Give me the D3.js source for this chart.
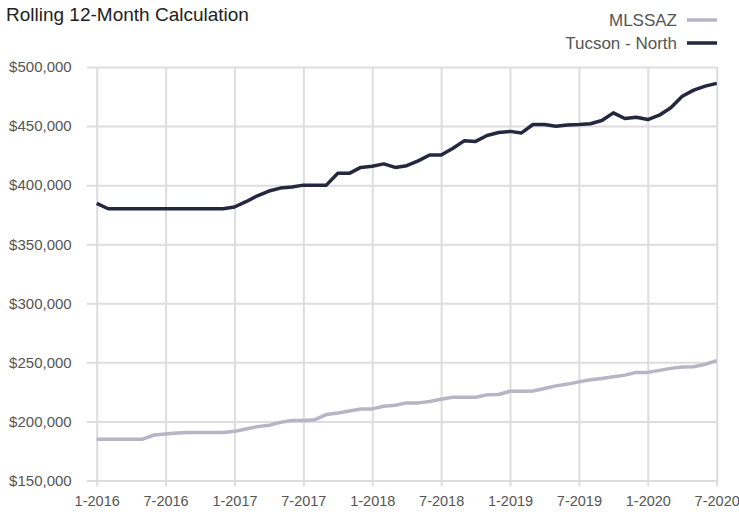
<!DOCTYPE html>
<meta charset="utf-8" />
<style>
  html,
  body {
    margin: 0;
    padding: 0;
    background: #fff;
  }
  #chart {
    width: 739px;
    height: 515px;
    font-family: 'Liberation Sans', Arial, sans-serif;
  }
</style>
<script src="https://d3js.org/d3.v7.min.js"></script>

<div id="chart"></div>

<script>
  // monthly values, 1-2016 .. 7-2020 (55 months)
  const tickLabels = [
    '1-2016', '7-2016', '1-2017', '7-2017', '1-2018',
    '7-2018', '1-2019', '7-2019', '1-2020', '7-2020',
  ];
  const yTicks = [150000, 200000, 250000, 300000, 350000, 400000, 450000, 500000];

  const mlssaz = [
    185000, 185000, 185000, 185000, 185000, 188500, 189400, 190200, 190700, 190700,
    190700, 190700, 191600, 193600, 195600, 196700, 199200, 200700, 200700, 201500,
    205800, 207200, 208900, 210600, 210600, 212800, 213700, 215700, 215700, 216800,
    218800, 220500, 220500, 220500, 222500, 222800, 225500, 225500, 225700, 227900,
    230100, 231600, 233500, 235200, 236400, 237800, 239200, 241500, 241500, 243200,
    244900, 246000, 246300, 248300, 251400,
  ];
  const tucsonNorth = [
    384500, 380000, 380000, 380000, 380000, 380000, 380000, 380000, 380000, 380000,
    380000, 380000, 381500, 386000, 391000, 395000, 397500, 398500, 400000, 400000,
    400000, 410000, 410000, 415000, 416000, 418000, 415000, 416500, 420500, 425500,
    425500, 431000, 437500, 437000, 442000, 444500, 445500, 444200, 451300, 451300,
    449800, 451000, 451300, 452000, 454700, 461200, 456400, 457500, 455500, 459200,
    465500, 475300, 480400, 483800, 486100,
  ];

  const seriesNames = ['MLSSAZ', 'Tucson - North'];
  const seriesColors = ['#b6b4c5', '#25273f'];

  const width = 739;
  const height = 515;
  const margin = { top: 67, right: 22.3, bottom: 34.5, left: 96.7 };
  const innerW = width - margin.left - margin.right;
  const innerH = height - margin.top - margin.bottom;

  const svg = d3
    .select('#chart')
    .append('svg')
    .attr('width', width)
    .attr('height', height);

  const g = svg
    .append('g')
    .attr('transform', 'translate(' + margin.left + ',' + margin.top + ')');

  const x = d3.scaleLinear().domain([0, mlssaz.length - 1]).range([0, innerW]);
  const y = d3.scaleLinear().domain([150000, 500000]).range([innerH, 0]);

  const gridColor = '#dddddd';

  // horizontal grid + y labels
  const yAxis = g
    .append('g')
    .call(
      d3
        .axisLeft(y)
        .tickValues(yTicks)
        .tickSize(0)
        .tickFormat((d) => '$' + d3.format(',')(d)),
    )
    .call((a) => a.select('.domain').remove());
  yAxis.selectAll('.tick line')
    .attr('x1', -10)
    .attr('x2', innerW)
    .attr('stroke', gridColor)
    .attr('stroke-width', 2);
  yAxis.selectAll('.tick text')
    .attr('x', -25)
    .attr('fill', '#555')
    .style('font-size', '15px')
    .style('font-family', "'Liberation Sans', Arial, sans-serif");

  // vertical grid + x labels
  const xAxis = g
    .append('g')
    .attr('transform', 'translate(0,' + innerH + ')')
    .call(
      d3
        .axisBottom(x)
        .tickValues(d3.range(0, mlssaz.length, 6))
        .tickSize(6)
        .tickPadding(9)
        .tickFormat((d, i) => tickLabels[i]),
    )
    .call((a) => a.select('.domain').remove());
  xAxis.selectAll('.tick line')
    .attr('y1', -innerH)
    .attr('y2', 6)
    .attr('stroke', gridColor)
    .attr('stroke-width', 2);
  xAxis.selectAll('.tick text')
    .attr('fill', '#555')
    .style('font-size', '14.5px')
    .style('font-family', "'Liberation Sans', Arial, sans-serif");

  // lines
  const line = d3
    .line()
    .x((d, i) => x(i))
    .y((d) => y(d));

  [mlssaz, tucsonNorth].forEach((values, k) => {
    g.append('path')
      .datum(values)
      .attr('fill', 'none')
      .attr('stroke', seriesColors[k])
      .attr('stroke-width', 3.5)
      .attr('stroke-linejoin', 'round')
      .attr('d', line);
  });

  // title
  svg
    .append('text')
    .attr('x', 6)
    .attr('y', 21)
    .attr('fill', '#222')
    .style('font-size', '19px')
    .text('Rolling 12-Month Calculation');

  // legend
  const legend = svg
    .selectAll('.legend')
    .data(seriesNames)
    .enter()
    .append('g')
    .attr('class', 'legend')
    .attr('transform', (d, i) => 'translate(0,' + (20 + i * 23) + ')');

  legend
    .append('text')
    .attr('x', 677)
    .attr('y', 6)
    .attr('text-anchor', 'end')
    .attr('fill', '#555')
    .style('font-size', '17px')
    .text((d) => d);

  legend
    .append('line')
    .attr('x1', 687)
    .attr('x2', 717)
    .attr('y1', 0)
    .attr('y2', 0)
    .attr('stroke', (d, i) => seriesColors[i])
    .attr('stroke-width', 3.5);
</script>
